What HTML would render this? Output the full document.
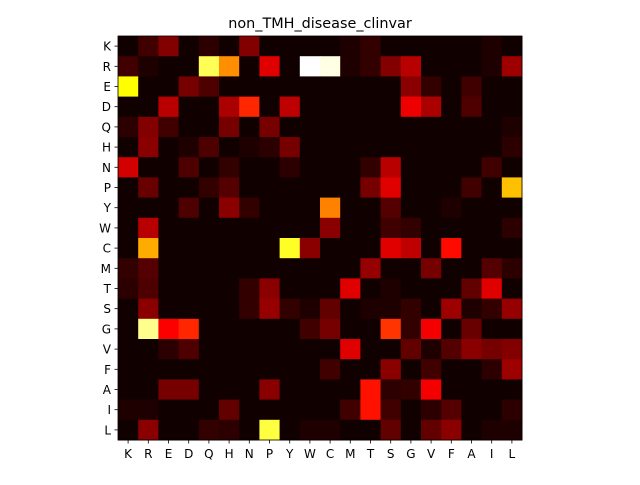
<!DOCTYPE html>
<html><head><meta charset="utf-8"><style>
body{margin:0;background:#fff;}
svg text{font-family:"DejaVu Sans","Liberation Sans",sans-serif;}
</style></head><body>
<svg id="chart" width="640" height="480" xmlns="http://www.w3.org/2000/svg">
<rect width="640" height="480" fill="#fff"/>
<text x="320" y="28" font-size="14.4" text-anchor="middle">non_TMH_disease_clinvar</text>
<g id="cells"></g><g id="axes"></g>
</svg>
<script>
const rowLabels=["K","R","E","D","Q","H","N","P","Y","W","C","M","T","S","G","V","F","A","I","L"];
const colLabels=["K","R","E","D","Q","H","N","P","Y","W","C","M","T","S","G","V","F","A","I","L"];
const row0=[.01,.08,.18,.01,.05,.01,.18,.01,.01,.01,.01,.03,.06,.01,.01,.01,.01,.01,.03,.01];
const row1=[.08,.03,.01,.01,.82,.57,.01,.32,.01,1,.97,.03,.06,.18,.26,.01,.01,.01,.03,.22];
const row2=[.73,.01,.01,.16,.1,.01,.01,.01,.01,.01,.01,.01,.01,.01,.19,.06,.01,.08,.01,.01];
const row3=[.01,.01,.26,.01,.01,.24,.42,.01,.27,.01,.01,.01,.01,.01,.34,.24,.01,.1,.01,.01];
const row4=[.05,.18,.08,.01,.01,.16,.01,.16,.01,.01,.01,.01,.01,.01,.01,.01,.01,.01,.01,.03];
const row5=[.01,.19,.01,.03,.1,.01,.03,.05,.16,.01,.01,.01,.01,.01,.01,.01,.01,.01,.01,.05];
const row6=[.3,.01,.01,.1,.01,.06,.01,.01,.05,.01,.01,.01,.06,.26,.01,.01,.01,.01,.08,.01];
const row7=[.01,.14,.01,.01,.06,.11,.01,.01,.01,.01,.01,.01,.16,.32,.01,.01,.01,.08,.01,.64];
const row8=[.01,.01,.01,.1,.01,.19,.06,.01,.01,.01,.55,.01,.01,.11,.01,.01,.03,.01,.01,.01];
const row9=[.01,.26,.01,.01,.01,.01,.01,.01,.01,.01,.19,.01,.01,.08,.06,.01,.01,.01,.01,.05];
const row10=[.01,.61,.01,.01,.01,.01,.01,.01,.77,.19,.01,.01,.01,.32,.27,.01,.38,.01,.01,.01];
const row11=[.06,.11,.01,.01,.01,.01,.01,.01,.01,.01,.01,.01,.21,.01,.01,.16,.01,.01,.11,.05];
const row12=[.05,.1,.01,.01,.01,.01,.06,.19,.01,.01,.01,.32,.01,.03,.01,.01,.01,.13,.32,.01];
const row13=[.01,.19,.01,.01,.01,.01,.06,.21,.06,.03,.13,.01,.03,.03,.06,.01,.22,.03,.06,.21];
const row14=[.01,.88,.36,.42,.01,.01,.01,.01,.01,.08,.16,.01,.01,.44,.06,.35,.01,.14,.01,.01];
const row15=[.01,.01,.05,.1,.01,.01,.01,.01,.01,.01,.01,.32,.01,.01,.13,.03,.11,.19,.16,.18];
const row16=[.01,.01,.01,.01,.01,.01,.01,.01,.01,.01,.08,.01,.01,.19,.01,.08,.01,.01,.05,.22];
const row17=[.01,.01,.16,.16,.01,.01,.01,.19,.01,.01,.01,.01,.39,.05,.06,.35,.01,.01,.01,.01];
const row18=[.03,.03,.01,.01,.01,.13,.01,.01,.01,.01,.01,.08,.39,.08,.01,.05,.11,.01,.01,.05];
const row19=[.01,.19,.01,.01,.06,.05,.01,.8,.01,.03,.03,.01,.01,.13,.01,.13,.19,.01,.03,.03];
const values=[row0,row1,row2,row3,row4,row5,row6,row7,row8,row9,row10,row11,row12,row13,row14,row15,row16,row17,row18,row19];

const X0=118,Y0=36,W=404,H=404;
const cw=W/colLabels.length, ch=H/rowLabels.length;
function xPos(i){return X0+i*cw;}
function yPos(j){return Y0+j*ch;}
function hot(v){
  const c=x=>Math.round(255*Math.max(0,Math.min(1,x)));
  const r=0.0416+v/0.365*(1-0.0416);
  return `rgb(${c(r)},${c((v-0.365)/0.365)},${c((v-0.73)/0.27)})`;
}
const NS="http://www.w3.org/2000/svg";
const cells=document.getElementById('cells');
values.forEach((row,j)=>row.forEach((v,i)=>{
  const r=document.createElementNS(NS,'rect');
  r.setAttribute('x',xPos(i));r.setAttribute('y',yPos(j));
  r.setAttribute('width',cw+0.5);r.setAttribute('height',ch+0.5);
  r.setAttribute('fill',hot(v));
  
  
  cells.appendChild(r);
}));
const axes=document.getElementById('axes');
rowLabels.forEach((l,j)=>{
  const y=yPos(j)+ch/2;
  const t=document.createElementNS(NS,'line');
  t.setAttribute('x1',X0-3.5);t.setAttribute('x2',X0);t.setAttribute('y1',y);t.setAttribute('y2',y);
  t.setAttribute('stroke','#000');t.setAttribute('stroke-width','0.8');
  
  
  axes.appendChild(t);
  const tx=document.createElementNS(NS,'text');
  tx.setAttribute('x',X0-7);tx.setAttribute('y',y+4.5);tx.setAttribute('font-size','12');tx.setAttribute('text-anchor','end');
  tx.textContent=l;
  
  
  axes.appendChild(tx);
});
colLabels.forEach((l,i)=>{
  const x=xPos(i)+cw/2;
  const t=document.createElementNS(NS,'line');
  t.setAttribute('x1',x);t.setAttribute('x2',x);t.setAttribute('y1',Y0+H);t.setAttribute('y2',Y0+H+3.5);
  t.setAttribute('stroke','#000');t.setAttribute('stroke-width','0.8');
  
  
  axes.appendChild(t);
  const tx=document.createElementNS(NS,'text');
  tx.setAttribute('x',x);tx.setAttribute('y',Y0+H+18);tx.setAttribute('font-size','12');tx.setAttribute('text-anchor','middle');
  tx.textContent=l;
  
  
  axes.appendChild(tx);
});
const f=document.createElementNS(NS,'rect');
f.setAttribute('x',X0);f.setAttribute('y',Y0);f.setAttribute('width',W);f.setAttribute('height',H);
f.setAttribute('fill','none');f.setAttribute('stroke','#000');f.setAttribute('stroke-width','0.8');


axes.appendChild(f);
</script>
</body></html>
